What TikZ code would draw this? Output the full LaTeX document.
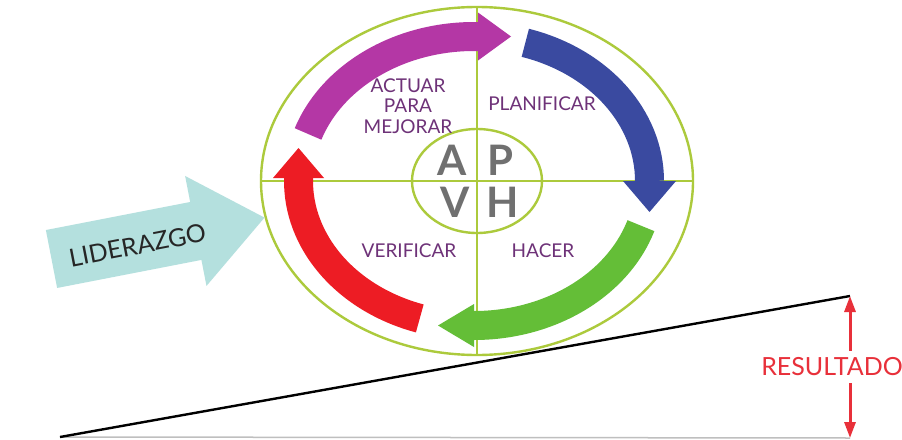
\documentclass[tikz,border=0pt]{standalone}
\usepackage{fontspec}
\setmainfont{Lato}
\usetikzlibrary{arrows.meta,calc}

\definecolor{ringgreen}{RGB}{172,202,60}
\definecolor{pdcapurple}{RGB}{180,55,165}
\definecolor{pdcablue}{RGB}{58,74,160}
\definecolor{pdcagreen}{RGB}{100,190,55}
\definecolor{pdcared}{RGB}{237,28,36}
\definecolor{labelpurple}{RGB}{110,50,120}
\definecolor{lettergray}{RGB}{112,112,112}
\definecolor{leadteal}{RGB}{180,224,222}
\definecolor{resred}{RGB}{232,48,58}

\tikzset{
  ring/.style={draw=ringgreen, line width=2.4pt},
  shaft/.style={line width=29pt},
  stage/.style={text=labelpurple, font=\fontsize{19}{20.5}\selectfont, align=center, inner sep=0pt},
  letter/.style={text=lettergray, font=\fontsize{42}{44}\selectfont\bfseries, inner sep=0pt},
  resarrow/.style={draw=resred, line width=3pt, -{Triangle[width=11pt,length=16pt]}},
}

\begin{document}
\begin{tikzpicture}[x=1pt,y=-1pt]
\useasboundingbox (0,0) rectangle (902,439);
\fill[white] (0,0) rectangle (902,439);

% centre of the cycle arrows
\coordinate (ac) at (474,181);

% outer ring with its quadrants
\draw[ring] (477,181) ellipse[x radius=216, y radius=174];
\draw[ring] (477,7) -- (477,355);
\draw[ring] (261,181) -- (693,181);

% plan - do - check - act arrows
\draw[shaft, pdcapurple] (ac) ++(199:175.5 and 144.5) arc[start angle=199, end angle=271.3, x radius=175.5, y radius=144.5];
\fill[pdcapurple] (478,12.5) -- (511,36.5) -- (478,60.5) -- cycle;

\draw[shaft, pdcablue] (ac) ++(287:175.5 and 144.5) arc[start angle=287, end angle=360, x radius=175.5, y radius=144.5];
\fill[pdcablue] (623,181) -- (649.5,212) -- (676,181) -- cycle;

\draw[shaft, pdcagreen] (ac) ++(18:175.5 and 144.5) arc[start angle=18, end angle=90, x radius=175.5, y radius=144.5];
\fill[pdcagreen] (474,304) -- (438,325.5) -- (474,347) -- cycle;

\draw[shaft, pdcared] (ac) ++(108:175.5 and 144.5) arc[start angle=108, end angle=181.2, x radius=175.5, y radius=144.5];
\fill[pdcared] (273,178) -- (298.5,148) -- (324,178) -- cycle;

% inner ring and letters
\draw[ring] (477,181) ellipse[x radius=65, y radius=52];
\node[letter] (la) at (452,160) {A};
\node[letter] (lp) at (500,160) {P};
\node[letter] (lv) at (455,202) {V};
\node[letter] (lh) at (503,202) {H};

% stage labels
\node[stage] (act) at (408,106) {ACTUAR\\PARA\\MEJORAR};
\node[stage] (plan) at (542,104) {PLANIFICAR};
\node[stage] (check) at (409,251) {VERIFICAR};
\node[stage] (doit) at (543,251) {HACER};

% leadership arrow
\begin{scope}[shift={(51.5,259)}, rotate=11]
  \fill[leadteal] (0,-29.5) -- (147,-29.5) -- (147,-56) -- (217,0) -- (147,56) -- (147,29.5) -- (0,29.5) -- cycle;
  \node[rotate=11, text=black!85, font=\fontsize{25}{27}\selectfont, inner sep=0pt] (lead) at (87,3) {LIDERAZGO};
\end{scope}

% rising result line
\coordinate (base) at (60,437);
\coordinate (rtop) at (850,296);
\coordinate (rbot) at (850,438);
\draw[black!25, line width=1.5pt] (base) -- (rbot);
\draw[black, line width=2.4pt] (base) -- (rtop);

\node[text=resred, font=\fontsize{25}{27}\selectfont, inner sep=0pt] (res) at (832,367) {RESULTADO};
\draw[resarrow] ($(res.north -| rtop)+(0,-7)$) -- (rtop);
\draw[resarrow] ($(res.south -| rbot)+(0,7)$) -- (rbot);
\end{tikzpicture}
\end{document}
